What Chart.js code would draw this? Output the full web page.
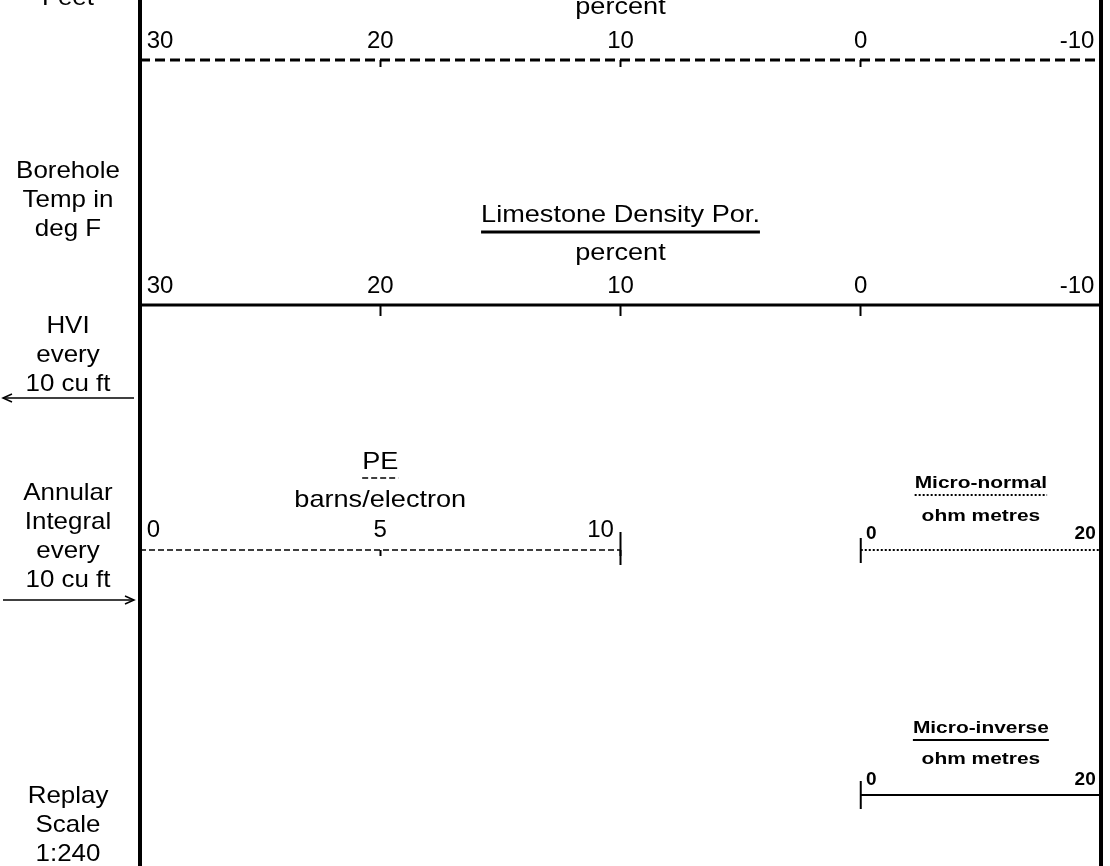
<!DOCTYPE html>
<html><head><meta charset="utf-8">
<script src="https://cdn.jsdelivr.net/npm/chart.js@4.4.1/dist/chart.umd.min.js"></script>
<style>html,body{margin:0;padding:0;background:#fff;}canvas{display:block;}</style>
</head><body>
<canvas id="c" width="1110" height="866"></canvas>
<script>
// ---------------- data ----------------
const trackNames   = ['Neutron Por.', 'Limestone Density Por.', 'PE', 'Micro-normal', 'Micro-inverse'];
const trackTitles  = ['', 'Limestone Density Por.', 'PE', 'Micro-normal', 'Micro-inverse'];
const trackUnits   = ['percent', 'percent', 'barns/electron', 'ohm metres', 'ohm metres'];
const trackLeft    = [30, 30, 0, 0, 0];        // value at left end of the scale line
const trackRight   = [-10, -10, 10, 20, 20];   // value at right end of the scale line
const porosityTicks = [30, 20, 10, 0, -10];
const peTicks       = [0, 5, 10];
const microTicks    = [0, 20];
const trackTicks   = [porosityTicks, porosityTicks, peTicks, microTicks, microTicks];
const trackRow     = [0, 1, 2, 2, 3];          // header row of each scale
const depthLabels  = [['Feet'], ['Borehole', 'Temp in', 'deg F'], ['HVI', 'every', '10 cu ft'],
                      ['Annular', 'Integral', 'every', '10 cu ft'], ['Replay', 'Scale', '1:240']];

// ---------------- layout / style ----------------
const W = 1110, H = 866;
const DEPTH_W = 140, RIGHT_PAD = 9;
const DIVS = 4;
const trackDivs = [[0, 4], [0, 4], [0, 2], [3, 4], [3, 4]];
const ROW0 = 60, ROW_STEP = 245;
const FONT = "'Liberation Sans', Arial, sans-serif";
const BIG = 24, SMALL = 17, SMALL_TICK = 19;
const BIG_SX = 1.13, SMALL_SX = 1.23, DEPTH_SX = 1.08;
const styles = [
  {w: 3,   dash: [10, 5], font: BIG,   tick: BIG,        bold: false, tl: 7,  lab: -19, title: -84, ul: -73, unit: -46, pad: ' ', bar: null},
  {w: 3,   dash: [],      font: BIG,   tick: BIG,        bold: false, tl: 11, lab: -19, title: -83, ul: -73, unit: -45, pad: ' ', bar: null},
  {w: 1.5, dash: [6, 3],  font: BIG,   tick: BIG,        bold: false, tl: 6,  lab: -20, title: -81, ul: -72, unit: -43, pad: ' ', bar: {end: 'right', up: 18, down: 15}},
  {w: 2,   dash: [2, 2],  font: SMALL, tick: SMALL_TICK, bold: true,  tl: 0,  lab: -16, title: -62, ul: -55, unit: -29, pad: ' ', bar: {end: 'left', up: 12, down: 13}},
  {w: 2,   dash: [],      font: SMALL, tick: SMALL_TICK, bold: true,  tl: 0,  lab: -15, title: -62, ul: -55, unit: -31, pad: ' ', bar: {end: 'left', up: 14, down: 14}}
];

const yMin = -ROW0 / ROW_STEP, yMax = yMin + H / ROW_STEP;

function scaleFor(i) {
  const L = trackLeft[i], R = trackRight[i], d0 = trackDivs[i][0], d1 = trackDivs[i][1];
  const per = (R - L) / (d1 - d0);
  const leftEdge = L - per * d0, rightEdge = R + per * (DIVS - d1);
  const st = styles[i];
  const lh = st.tick * 1.2;
  return {
    type: 'linear',
    position: {y: trackRow[i]},
    min: Math.min(leftEdge, rightEdge),
    max: Math.max(leftEdge, rightEdge),
    reverse: leftEdge > rightEdge,
    afterBuildTicks: s => { s.ticks = trackTicks[i].slice().sort((a, b) => a - b).map(v => ({value: v})); },
    grid: {display: true, drawOnChartArea: false, drawTicks: st.tl > 0, tickLength: st.tl, tickWidth: 2, tickColor: '#000'},
    border: {display: false},
    ticks: {
      align: 'inner', autoSkip: false, maxRotation: 0, minRotation: 0, color: '#000',
      padding: st.lab - st.tl - lh / 2,
      font: {family: FONT, size: st.tick, weight: st.bold ? 'bold' : 'normal', lineHeight: 1.2},
      // keep the end labels clear of the end marks
      callback: v => v === L ? st.pad + v : (v === R ? v + st.pad : String(v))
    }
  };
}

const scales = {
  y: {type: 'linear', position: 'left', min: yMin, max: yMax, reverse: true,
      grid: {display: false, drawTicks: false}, ticks: {display: false},
      border: {display: true, width: 4, color: '#000'}},
  yR: {type: 'linear', position: 'right', min: yMin, max: yMax, reverse: true,
      grid: {display: false, drawTicks: false}, ticks: {display: false},
      border: {display: true, width: 4, color: '#000'}}
};
trackNames.forEach((n, i) => { scales['x' + i] = scaleFor(i); });

const datasets = trackNames.map((n, i) => ({
  label: n,
  data: [{x: trackLeft[i], y: trackRow[i]}, {x: trackRight[i], y: trackRow[i]}],
  xAxisID: 'x' + i, yAxisID: 'y',
  borderColor: '#000', borderWidth: styles[i].w, borderDash: styles[i].dash,
  pointRadius: 0, tension: 0, fill: false, clip: false
}));

function text(ctx, s, x, y, size, bold, sx) {
  ctx.save();
  ctx.font = (bold ? 'bold ' : '') + size + 'px ' + FONT;
  ctx.textAlign = 'center';
  ctx.textBaseline = 'alphabetic';
  ctx.translate(x, y);
  ctx.scale(sx, 1);
  ctx.fillText(s, 0, 0);
  const w = ctx.measureText(s).width * sx;
  ctx.restore();
  return w;
}

const headerPlugin = {
  id: 'header',
  afterDraw(chart) {
    const ctx = chart.ctx, y = chart.scales.y;
    ctx.save();
    ctx.fillStyle = '#000'; ctx.strokeStyle = '#000';
    trackNames.forEach((n, i) => {
      const xs = chart.scales['x' + i], st = styles[i];
      const pl = xs.getPixelForValue(trackLeft[i]), pr = xs.getPixelForValue(trackRight[i]);
      const cx = (pl + pr) / 2, ry = y.getPixelForValue(trackRow[i]);
      const sx = st.bold ? SMALL_SX : BIG_SX;
      if (trackTitles[i]) {
        const w = text(ctx, trackTitles[i], cx, ry + st.title, st.font, st.bold, sx);
        ctx.lineWidth = st.w; ctx.setLineDash(st.dash);
        ctx.beginPath(); ctx.moveTo(cx - w / 2, ry + st.ul); ctx.lineTo(cx + w / 2, ry + st.ul); ctx.stroke();
        ctx.setLineDash([]);
      }
      text(ctx, trackUnits[i], cx, ry + st.unit, st.font, st.bold, sx);
      if (st.bar) {
        const bx = st.bar.end === 'right' ? pr : pl;
        ctx.lineWidth = 2;
        ctx.beginPath(); ctx.moveTo(bx, ry - st.bar.up); ctx.lineTo(bx, ry + st.bar.down); ctx.stroke();
      }
    });
    // depth column labels
    const cx = 68, LS = 29;
    const firstBase = [5, 178, 333, 500, 803];
    depthLabels.forEach((lines, k) => {
      lines.forEach((s, j) => text(ctx, s, cx, firstBase[k] + j * LS, BIG, false, DEPTH_SX));
    });
    // arrows
    ctx.lineWidth = 1.5;
    const arrow = (x1, x2, ay) => {
      ctx.beginPath(); ctx.moveTo(x1, ay); ctx.lineTo(x2, ay); ctx.stroke();
      const d = x2 > x1 ? -1 : 1;
      ctx.beginPath(); ctx.moveTo(x2 + d * 9, ay - 4); ctx.lineTo(x2, ay); ctx.lineTo(x2 + d * 9, ay + 4); ctx.stroke();
    };
    arrow(134, 3, 398);
    arrow(3, 134, 600);
    ctx.restore();
  }
};

new Chart(document.getElementById('c'), {
  type: 'line',
  data: {datasets},
  options: {
    responsive: false, animation: false,
    layout: {padding: {left: DEPTH_W, right: RIGHT_PAD, top: 0, bottom: 0}},
    plugins: {legend: {display: false}, tooltip: {enabled: false}, title: {display: false}},
    events: [],
    scales
  },
  plugins: [headerPlugin]
});
</script>
</body></html>
